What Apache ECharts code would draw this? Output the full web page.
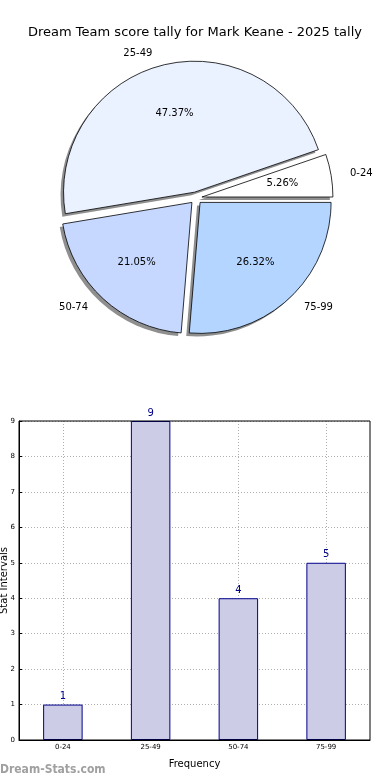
<!DOCTYPE html>
<html><head><meta charset="utf-8">
<script src="https://cdn.jsdelivr.net/npm/echarts@6/dist/echarts.min.js"></script>
<style>html,body{margin:0;padding:0;background:#fff}#c{width:390px;height:780px}</style>
</head><body><div id="c"></div>
<script>
const titleText = 'Dream Team score tally for Mark Keane - 2025 tally';
const categories = ['0-24', '25-49', '50-74', '75-99'];
const counts = [1, 9, 4, 5];
const pieColors = ['#ffffff', '#eaf1ff', '#c6d8ff', '#b4d5ff'];
const yTicks = [0, 1, 2, 3, 4, 5, 6, 7, 8, 9];
const font = 'DejaVu Sans';

const chart = echarts.init(document.getElementById('c'), null, {renderer: 'canvas'});
const R = 131;
const pieCommon = {
  type: 'pie', center: [196, 198], startAngle: 0, clockwise: false,
  selectedMode: 'multiple', selectedOffset: 6, animation: false, silent: true,
  emphasis: {disabled: true}, labelLine: {show: false}
};
const mkData = (styleFn) => categories.map((c, i) => ({name: c, value: counts[i], selected: true,
  itemStyle: styleFn(i)}));
chart.setOption({
  animation: false,
  title: {text: titleText, left: 'center', top: 21,
    textStyle: {fontFamily: font, fontSize: 13, fontWeight: 'normal', color: '#000'}},
  grid: {left: 19, right: 20, top: 421, bottom: 40, outerBoundsMode: 'none', containLabel: false,
    show: true, borderColor: '#000', borderWidth: 1, z: 3},
  xAxis: {type: 'category', data: categories,
    name: 'Frequency', nameLocation: 'middle', nameGap: 19, nameMoveOverlap: false,
    nameTextStyle: {fontFamily: font, fontSize: 10, color: '#000'},
    axisLine: {lineStyle: {color: '#000'}},
    axisTick: {show: false, alignWithLabel: true},
    axisLabel: {fontFamily: font, fontSize: 7, color: '#000', margin: 4},
    splitLine: {show: true, alignWithLabel: true, lineStyle: {color: '#b0b0b0', type: [1, 2]}}},
  yAxis: {type: 'value', min: yTicks[0], max: yTicks[yTicks.length - 1], interval: 1,
    name: 'Stat Intervals', nameLocation: 'middle', nameGap: 10, nameMoveOverlap: false,
    nameTextStyle: {fontFamily: font, fontSize: 10, color: '#000'},
    axisLine: {show: true, lineStyle: {color: '#000'}},
    axisTick: {show: true, inside: true, length: 3, lineStyle: {color: '#000'}},
    axisLabel: {fontFamily: font, fontSize: 7, color: '#000', margin: 4},
    splitLine: {show: true, lineStyle: {color: '#b0b0b0', type: [1, 2]}}},
  graphic: [{type: 'text', left: 0, top: 764,
    style: {text: 'Dream-Stats.com', fontFamily: 'DejaVu Sans Condensed', fontSize: 12, fontWeight: 'bold', fill: '#a0a0a0'}}],
  series: [
    Object.assign({}, pieCommon, {
      center: [193, 201], radius: [0, R], z: 1,
      data: mkData(() => ({color: '#8f8f8f', borderWidth: 0})),
      label: {show: false}
    }),
    Object.assign({}, pieCommon, {
      radius: [0, R], z: 2,
      data: mkData(i => ({color: pieColors[i]})),
      itemStyle: {borderColor: '#000', borderWidth: 0.8},
      label: {show: true, position: 'outside', formatter: '{b}', alignTo: 'none',
        fontFamily: font, fontSize: 10, color: '#000'},
      labelLine: {show: false, length: 12, length2: 2}
    }),
    Object.assign({}, pieCommon, {
      radius: [0, R * 1.2], z: 3,
      data: mkData(() => ({color: 'rgba(0,0,0,0)', borderWidth: 0})),
      label: {show: true, position: 'inside', formatter: '{d}%',
        fontFamily: font, fontSize: 10, color: '#000'}
    }),
    {type: 'bar', data: counts, barWidth: '45%', z: 2,
      itemStyle: {color: '#ccccE6', borderColor: '#00008b', borderWidth: 1},
      label: {show: true, position: 'top', distance: 3, fontFamily: font, fontSize: 10, color: '#00008b'}}
  ]
});
</script></body></html>
